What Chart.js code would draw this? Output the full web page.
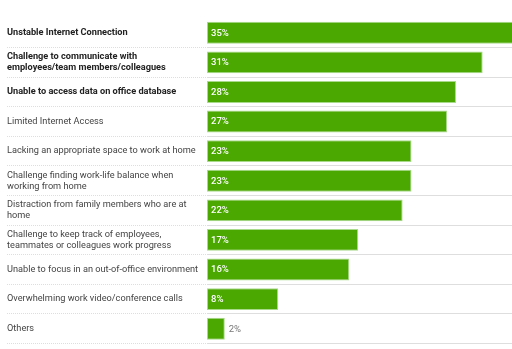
<!DOCTYPE html>
<html>
<head>
<meta charset="utf-8">
<script src="https://cdn.jsdelivr.net/npm/chart.js@4/dist/chart.umd.min.js"></script>
<style>
  html, body { margin: 0; padding: 0; background: #fff; }
  #wrap { width: 512px; height: 349px; position: relative; }
</style>
</head>
<body>
<div id="wrap"><canvas id="c"></canvas></div>
<script>
// Challenges faced while working from home (% of respondents)
const categories = [
  ['Unstable Internet Connection'],
  ['Challenge to communicate with', 'employees/team members/colleagues'],
  ['Unable to access data on office database'],
  ['Limited Internet Access'],
  ['Lacking an appropriate space to work at home'],
  ['Challenge finding work-life balance when', 'working from home'],
  ['Distraction from family members who are at', 'home'],
  ['Challenge to keep track of employees,', 'teammates or colleagues work progress'],
  ['Unable to focus in an out-of-office environment'],
  ['Overwhelming work video/conference calls'],
  ['Others']
];
const shares = [35, 31, 28, 27, 23, 23, 22, 17, 16, 8, 2];
const boldRows = [0, 1, 2];

const FONT = 'Roboto, "Liberation Sans", Arial, sans-serif';

// Percentage labels: inside the bar in white, or just past the end when the bar is short
const valueLabels = {
  id: 'valueLabels',
  afterDatasetsDraw(chart) {
    const ctx = chart.ctx;
    const meta = chart.getDatasetMeta(0);
    ctx.save();
    ctx.textBaseline = 'middle';
    meta.data.forEach((bar, i) => {
      const v = shares[i];
      const txt = v + '%';
      if (v >= 5) {
        ctx.font = '500 9.5px ' + FONT;
        ctx.fillStyle = '#ffffff';
        ctx.textAlign = 'left';
        ctx.fillText(txt, bar.base + 4, bar.y + 0.5);
      } else {
        ctx.font = '400 9.5px ' + FONT;
        ctx.fillStyle = '#777777';
        ctx.textAlign = 'left';
        ctx.fillText(txt, bar.x + 4, bar.y + 0.5);
      }
    });
    ctx.restore();
  }
};

new Chart(document.getElementById('c'), {
  type: 'bar',
  data: {
    labels: categories,
    datasets: [{
      data: shares,
      backgroundColor: '#4aa800',
      borderColor: '#a9d98a',
      borderWidth: 1,
      borderSkipped: false,
      barPercentage: 0.74,
      categoryPercentage: 1.0
    }]
  },
  options: {
    indexAxis: 'y',
    responsive: true,
    maintainAspectRatio: false,
    animation: false,
    layout: { padding: { left: 7, right: 0, top: 18, bottom: 2 } },
    plugins: {
      legend: { display: false },
      tooltip: { enabled: false }
    },
    scales: {
      x: {
        display: false,
        min: 0,
        max: 34.3
      },
      y: {
        afterFit(scale) { scale.width = 200; },
        border: { display: false },
        grid: {
          offset: true,
          drawOnChartArea: true,
          color(ctx) {
            const n = categories.length;
            return (ctx.index === 0 || ctx.index === n) ? 'rgba(0,0,0,0)' : '#dedede';
          },
          lineWidth: 1,
          borderDash: [1, 1],
          tickBorderDash: [1, 1],
          tickLength: 200
        },
        ticks: {
          crossAlign: 'far',
          padding: 0,
          autoSkip: false,
          color(ctx) { return boldRows.includes(ctx.index) ? '#222222' : '#444444'; },
          font(ctx) {
            return {
              family: FONT,
              size: 9.2,
              weight: boldRows.includes(ctx.index) ? 'bold' : 'normal',
              lineHeight: 1.2
            };
          }
        }
      }
    }
  },
  plugins: [valueLabels]
});
</script>
</body>
</html>
